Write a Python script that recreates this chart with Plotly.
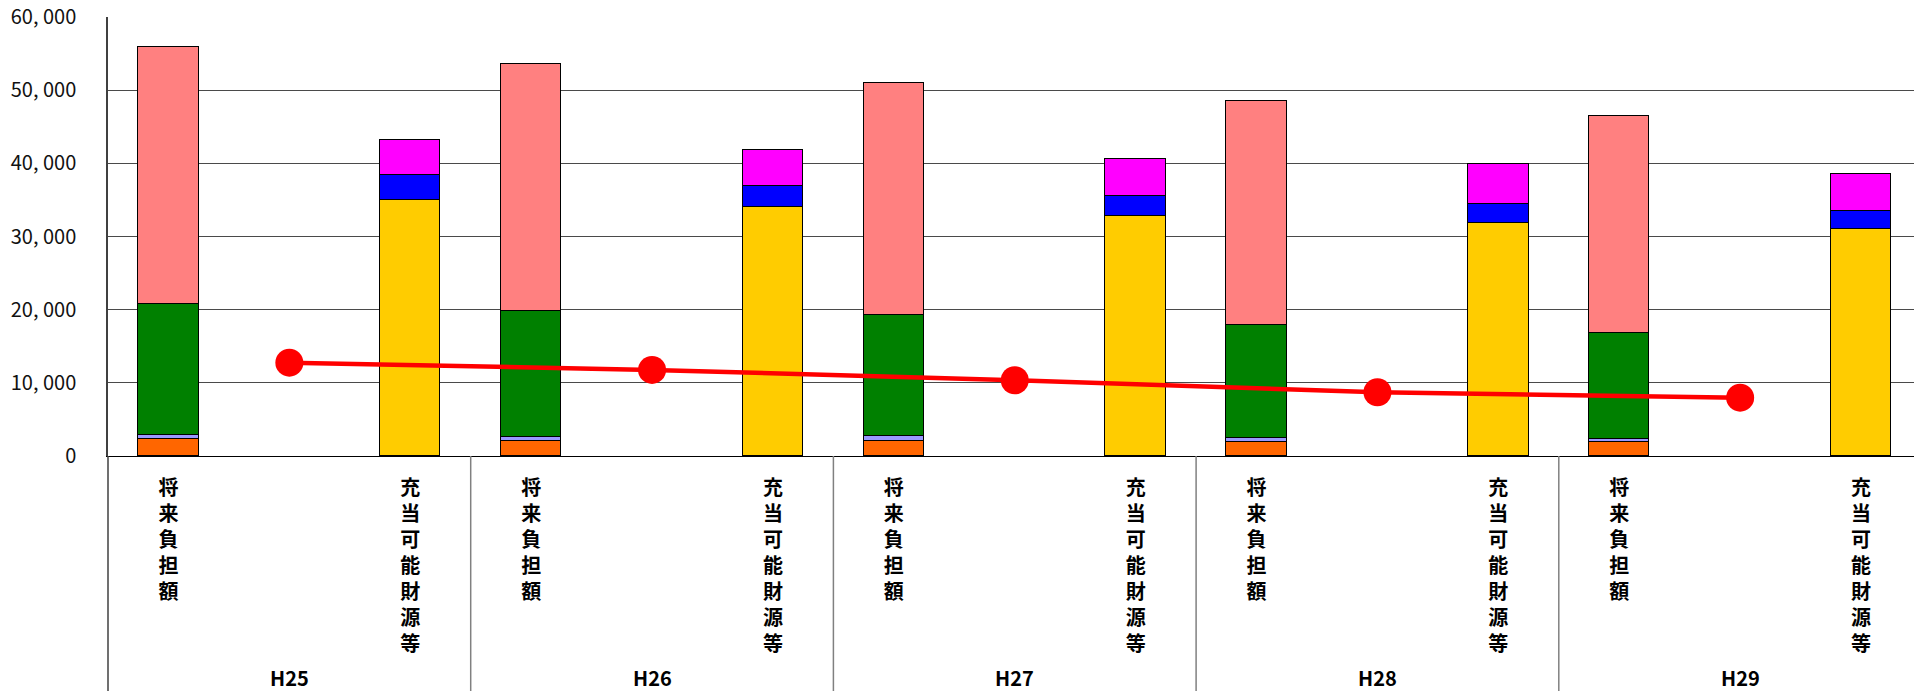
import plotly.graph_objects as go

# Fiscal years and the three slots shown inside each year group
years = ["H25", "H26", "H27", "H28", "H29"]
slot_names = ["将来負担額", "", "充当可能財源等"]

# 将来負担額: stacked components, bottom to top
burden_orange = [2370, 2050, 2050, 1870, 1870]
burden_lavender = [500, 510, 640, 630, 500]
burden_green = [17880, 17230, 16560, 15420, 14460]
burden_pink = [35160, 33830, 31740, 30640, 29640]

# 充当可能財源等: stacked components, bottom to top
fund_yellow = [35020, 34020, 32870, 31830, 31050]
fund_blue = [3420, 2870, 2610, 2620, 2470]
fund_magenta = [4750, 4970, 5110, 5400, 4960]

# Net burden line drawn in the middle slot of each year
net_line = [12760, 11770, 10350, 8710, 7975]

y_ticks = [0, 10000, 20000, 30000, 40000, 50000, 60000]

W, H = 1914, 691
M_L, M_R, M_T, M_B = 108, 0, 17, 235
JP = "Noto Sans CJK JP"

categories = [f"{y}|{i}" for y in years for i in range(len(slot_names))]
tick_text = ["<br>".join(list(slot_names[i])) for _ in years for i in range(len(slot_names))]

x_burden = [f"{y}|0" for y in years]
x_mid = [f"{y}|1" for y in years]
x_fund = [f"{y}|2" for y in years]

fig = go.Figure()

def add_stack(xs, vals, color):
    fig.add_trace(go.Bar(
        x=xs, y=vals, width=0.5,
        marker=dict(color=color, line=dict(color="black", width=1)),
        showlegend=False, hoverinfo="skip",
    ))

add_stack(x_burden, burden_orange, "#FF6600")
add_stack(x_burden, burden_lavender, "#9999FF")
add_stack(x_burden, burden_green, "#008000")
add_stack(x_burden, burden_pink, "#FF8080")
add_stack(x_fund, fund_yellow, "#FFCC00")
add_stack(x_fund, fund_blue, "#0000FF")
add_stack(x_fund, fund_magenta, "#FF00FF")

fig.add_trace(go.Scatter(
    x=x_mid, y=net_line, mode="lines+markers",
    line=dict(color="#FF0000", width=4.5),
    marker=dict(color="#FF0000", size=28),
    showlegend=False, hoverinfo="skip",
))

plot_w = W - M_L - M_R
slot_px = 120.9
x_hi = -0.5 + plot_w / slot_px
plot_h = H - M_T - M_B
below = -M_B / plot_h

# Group dividers below the axis and the extended left edge
shapes = []
for g in range(1, len(years)):
    shapes.append(dict(type="line", xref="x", yref="paper",
                       x0=g * 3 - 0.5, x1=g * 3 - 0.5, y0=0, y1=below,
                       line=dict(color="#808080", width=1.5)))
shapes.append(dict(type="line", xref="paper", yref="paper",
                   x0=0, x1=0, y0=0, y1=below,
                   line=dict(color="#404040", width=1.5)))

annotations = []
for g, y in enumerate(years):
    annotations.append(dict(
        x=g * 3 + 1, xref="x", y=-221.5 / plot_h, yref="paper",
        text=f"<b>{y}</b>", showarrow=False, xanchor="center", yanchor="middle",
        font=dict(family=JP, size=20, color="black"),
    ))

fig.update_layout(
    width=W, height=H,
    margin=dict(l=M_L, r=M_R, t=M_T, b=M_B, pad=0),
    paper_bgcolor="white", plot_bgcolor="white",
    barmode="stack", bargap=0,
    showlegend=False, hovermode=False,
    shapes=shapes, annotations=annotations,
    font=dict(family=JP, color="black"),
)

fig.update_xaxes(
    type="category", categoryorder="array", categoryarray=categories,
    tickvals=categories, ticktext=[f"<b>{t}</b>" if t else "" for t in tick_text],
    range=[-0.5, x_hi],
    showgrid=False, zeroline=False,
    showline=True, linecolor="black", linewidth=1,
    ticks="", ticklabelstandoff=14,
    tickfont=dict(family=JP, size=20, color="black"),
    tickangle=0,
)

fig.update_yaxes(
    range=[0, 60000],
    tickvals=y_ticks, ticktext=[f"{v:,}".replace(",", ", ") for v in y_ticks],
    showgrid=True, gridcolor="#4a4a4a", gridwidth=1,
    zeroline=False,
    showline=True, linecolor="#404040", linewidth=1.5,
    ticks="", ticklabelstandoff=26,
    tickfont=dict(family=JP, size=20, color="#111"),
)

fig.write_html("out.html")
